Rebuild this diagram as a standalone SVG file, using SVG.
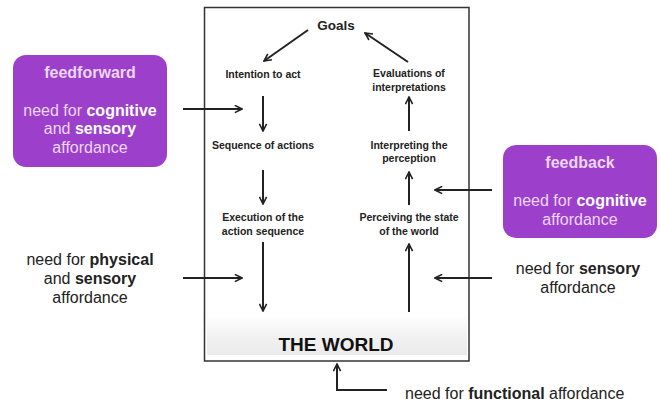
<svg xmlns="http://www.w3.org/2000/svg" width="660" height="405" viewBox="0 0 660 405">
<defs>
<marker id="ah2" viewBox="0 0 10 10" refX="9" refY="5" markerWidth="9" markerHeight="9" orient="auto" markerUnits="userSpaceOnUse">
<path d="M1,1 L9,5 L1,9" fill="none" stroke="#222" stroke-width="1.8"/>
</marker>
<linearGradient id="wg" x1="0" y1="0" x2="0" y2="1">
<stop offset="0" stop-color="#ffffff"/>
<stop offset="0.55" stop-color="#f1f1f1"/>
<stop offset="1" stop-color="#ebebeb"/>
</linearGradient>
<style>
text{font-family:"Liberation Sans",Arial,sans-serif;}
.in{font-size:10.5px;font-weight:bold;fill:#222;text-anchor:middle;}
.out{font-size:16px;fill:#222;text-anchor:middle;}
.pb{font-size:16px;fill:#ecd6f7;text-anchor:middle;}
.b{font-weight:bold;}
.w{fill:#ffffff;}
.conn line,.conn path{stroke:#222;stroke-width:2;fill:none;marker-end:url(#ah2);}
.pbox{fill:#9c40cc;}
</style>
</defs>
<rect width="660" height="405" fill="#fff"/>
<g id="world-box">
<rect x="204.5" y="7.5" width="264.5" height="353.5" fill="#fff" stroke="#333" stroke-width="1.5"/>
<rect x="207" y="315" width="260" height="40" fill="url(#wg)"/>
<text x="336" y="351" font-size="19" font-weight="bold" fill="#111" text-anchor="middle">THE WORLD</text>
</g>
<g id="goals"><text x="336" y="30" font-size="13.5" font-weight="bold" fill="#222" text-anchor="middle">Goals</text></g>
<g id="intention"><text class="in" x="263" y="78">Intention to act</text></g>
<g id="sequence"><text class="in" x="263" y="149">Sequence of actions</text></g>
<g id="execution"><text class="in" x="263" y="221">Execution of the</text><text class="in" x="263" y="235">action sequence</text></g>
<g id="evaluations"><text class="in" x="409" y="77">Evaluations of</text><text class="in" x="409" y="91">interpretations</text></g>
<g id="interpreting"><text class="in" x="409" y="149">Interpreting the</text><text class="in" x="409" y="162">perception</text></g>
<g id="perceiving"><text class="in" x="409" y="221">Perceiving the state</text><text class="in" x="409" y="235">of the world</text></g>
<g id="feedforward">
<rect class="pbox" x="13" y="55" width="154" height="112" rx="13"/>
<text class="pb b" x="90" y="78">feedforward</text>
<text class="pb" x="90" y="116">need for <tspan class="b w">cognitive</tspan></text>
<text class="pb" x="90" y="134">and <tspan class="b w">sensory</tspan></text>
<text class="pb" x="90" y="153">affordance</text>
</g>
<g id="feedback">
<rect class="pbox" x="503" y="145" width="154" height="93" rx="13"/>
<text class="pb b" x="580" y="168">feedback</text>
<text class="pb" x="580" y="206">need for <tspan class="b w">cognitive</tspan></text>
<text class="pb" x="580" y="225">affordance</text>
</g>
<g id="physical">
<text class="out" x="90" y="265">need for <tspan class="b">physical</tspan></text>
<text class="out" x="90" y="284">and <tspan class="b">sensory</tspan></text>
<text class="out" x="90" y="303">affordance</text>
</g>
<g id="sensory">
<text class="out" x="578" y="274">need for <tspan class="b">sensory</tspan></text>
<text class="out" x="578" y="293">affordance</text>
</g>
<g id="functional">
<text class="out" x="405" y="399" style="text-anchor:start">need for <tspan class="b">functional</tspan> affordance</text>
</g>
<g id="connectors" class="conn">
<line x1="308" y1="30" x2="264" y2="61"/>
<line x1="408" y1="62" x2="365" y2="33"/>
<line x1="263" y1="96" x2="263" y2="131"/>
<line x1="263" y1="170" x2="263" y2="204"/>
<line x1="263" y1="242" x2="263" y2="311"/>
<line x1="409" y1="131" x2="409" y2="97"/>
<line x1="409" y1="205" x2="409" y2="172"/>
<line x1="409" y1="312" x2="409" y2="244"/>
<line x1="183" y1="109" x2="242" y2="109"/>
<line x1="183" y1="278" x2="242" y2="278"/>
<line x1="492" y1="190" x2="435" y2="190"/>
<line x1="492" y1="278" x2="435" y2="278"/>
<path d="M387,390 H337 V364"/>
</g>
</svg>
